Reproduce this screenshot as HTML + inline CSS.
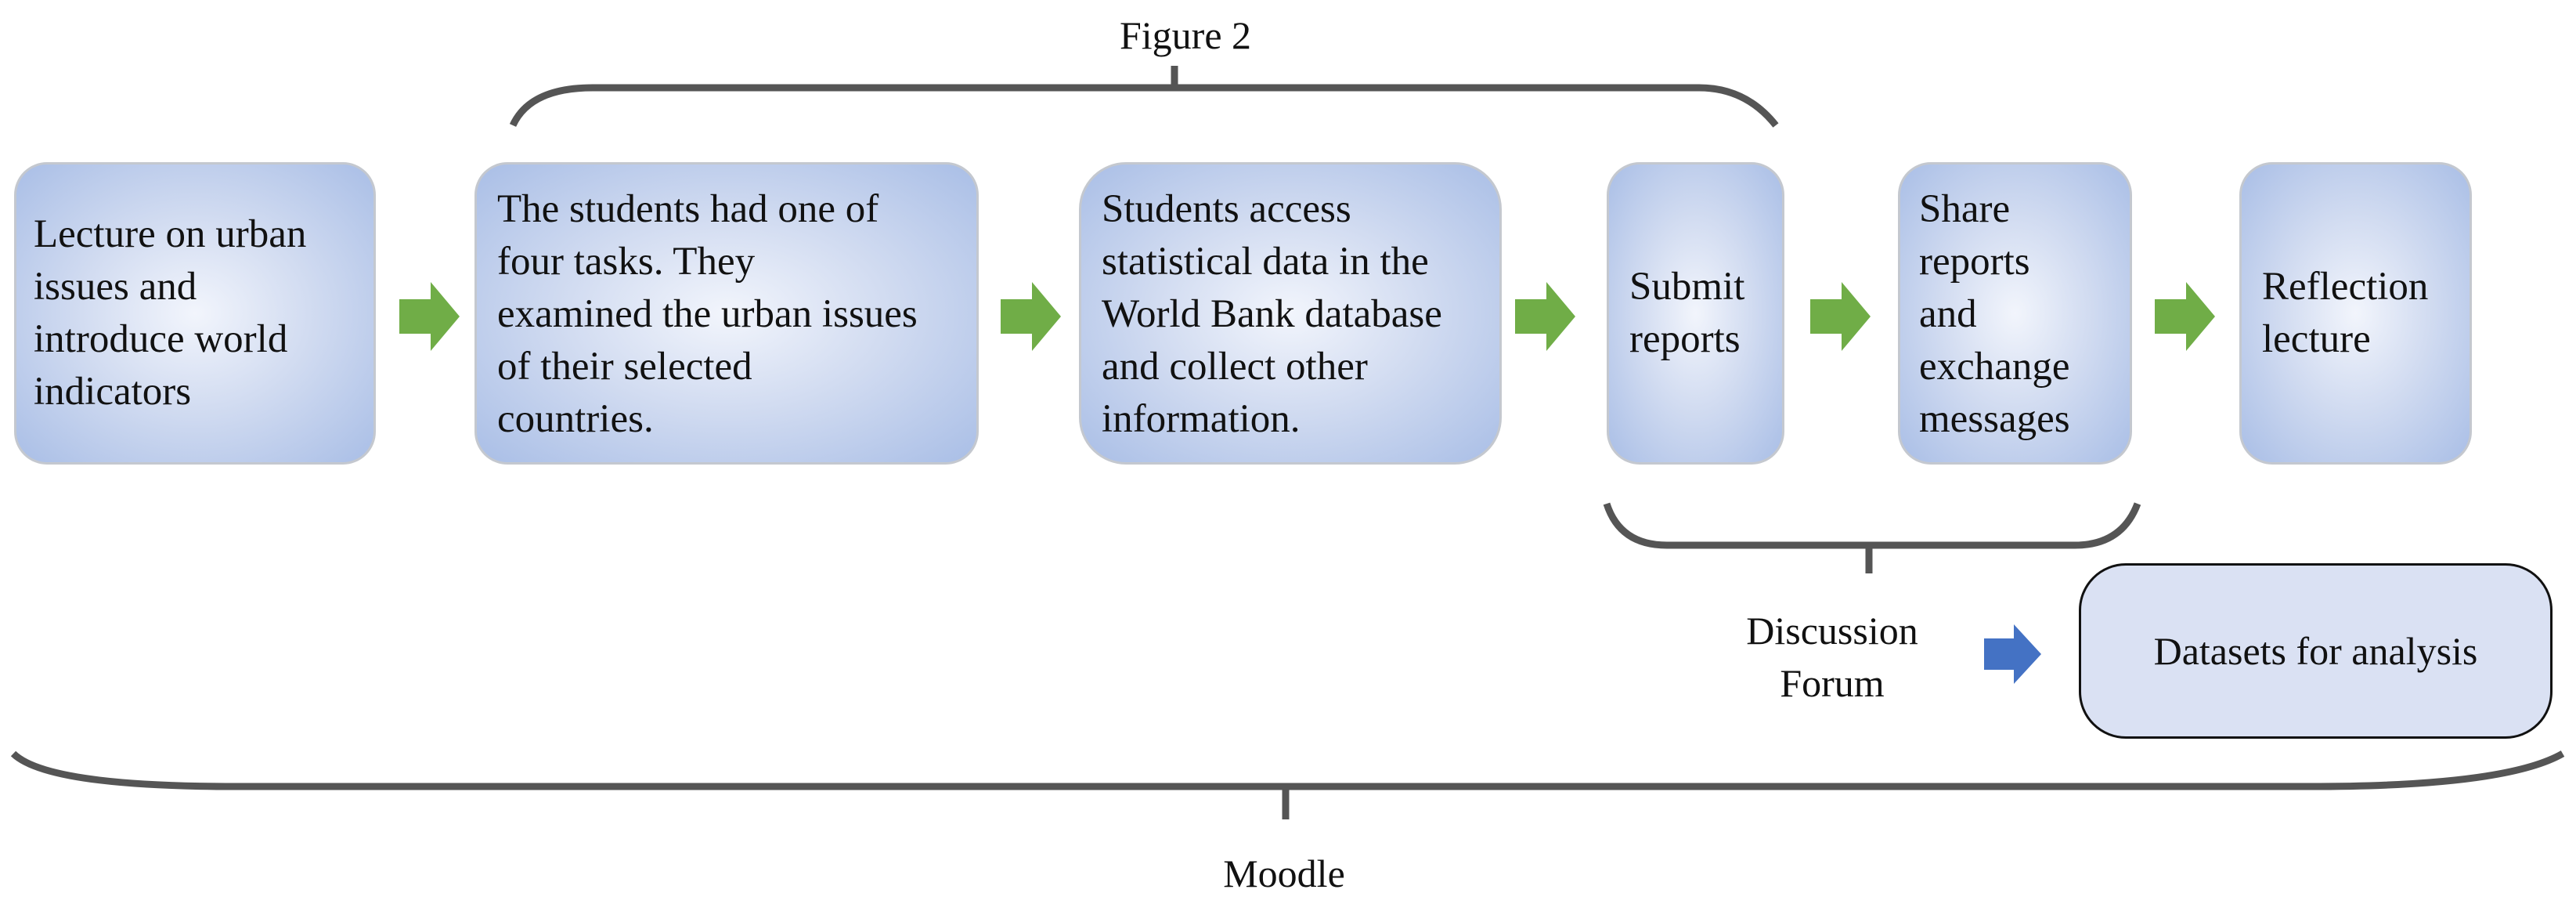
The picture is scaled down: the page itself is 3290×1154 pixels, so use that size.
<!DOCTYPE html>
<html><head><meta charset="utf-8"><style>
body{margin:0;width:3290px;height:1154px;background:#fff;position:relative;overflow:hidden;font-family:"Liberation Serif",serif;color:#111}
.b{position:absolute;top:207px;height:386px;box-sizing:border-box;border:3px solid #c4c8cf;border-radius:42px;background:radial-gradient(ellipse at center,#f2f5fc 0%,#d2dcf1 45%,#a9bee6 100%);display:flex;align-items:center;font-size:51px;line-height:67px;white-space:nowrap}
.b div{padding-left:22px}
.t{position:absolute;font-size:50px;line-height:67px;text-align:center}
</style></head><body>
<div class="t" style="left:1414px;top:12px;width:200px">Figure 2</div>

<div class="b" style="left:18px;width:462px"><div>Lecture on urban<br>issues and<br>introduce world<br>indicators</div></div>
<div class="b" style="left:606px;width:644px;align-items:flex-start;padding-top:24px"><div style="padding-left:26px">The students had one of<br>four tasks. They<br>examined the urban issues<br>of their selected<br>countries.</div></div>
<div class="b" style="left:1378px;width:540px;align-items:flex-start;padding-top:24px;border-radius:60px"><div style="padding-left:26px">Students access<br>statistical data in the<br>World Bank database<br>and collect other<br>information.</div></div>
<div class="b" style="left:2052px;width:227px"><div style="padding-left:26px">Submit<br>reports</div></div>
<div class="b" style="left:2424px;width:299px;align-items:flex-start;padding-top:24px"><div style="padding-left:24px">Share<br>reports<br>and<br>exchange<br>messages</div></div>
<div class="b" style="left:2860px;width:297px"><div style="padding-left:26px">Reflection<br>lecture</div></div>

<div style="position:absolute;left:2655px;top:719px;width:605px;height:224px;box-sizing:border-box;border:3px solid #111;border-radius:60px;background:#dae1f3;display:flex;align-items:center;justify-content:center;font-size:50px">Datasets for analysis</div>
<div class="t" style="left:2190px;top:772px;width:300px">Discussion<br>Forum</div>
<div class="t" style="left:1490px;top:1082px;width:300px">Moodle</div>

<svg width="3290" height="1154" style="position:absolute;left:0;top:0" fill="none">
<g stroke="#555" stroke-width="9">
<path d="M655 160 Q677 112 757 112 L2170 112 Q2230 112 2268 160"/>
<path d="M1500 84 V112"/>
<path d="M2052 643 Q2069 696 2129 696 L2650 696 Q2710 696 2730 643"/>
<path d="M2387 696 V732"/>
<path d="M17 962 Q60 1004 300 1004 L2950 1004 Q3200 1004 3273 962"/>
<path d="M1642 1004 V1046"/>
</g>
<g fill="#70ad47">
<path d="M510 382 h40 v-22 l37 44 l-37 44 v-22 h-40z"/>
<path d="M1278 382 h40 v-22 l37 44 l-37 44 v-22 h-40z"/>
<path d="M1935 382 h40 v-22 l37 44 l-37 44 v-22 h-40z"/>
<path d="M2312 382 h40 v-22 l37 44 l-37 44 v-22 h-40z"/>
<path d="M2752 382 h40 v-22 l37 44 l-37 44 v-22 h-40z"/>
</g>
<path fill="#4472c4" d="M2534 815 h38 v-18 l35 38 l-35 38 v-18 h-38z"/>
</svg>
</body></html>
